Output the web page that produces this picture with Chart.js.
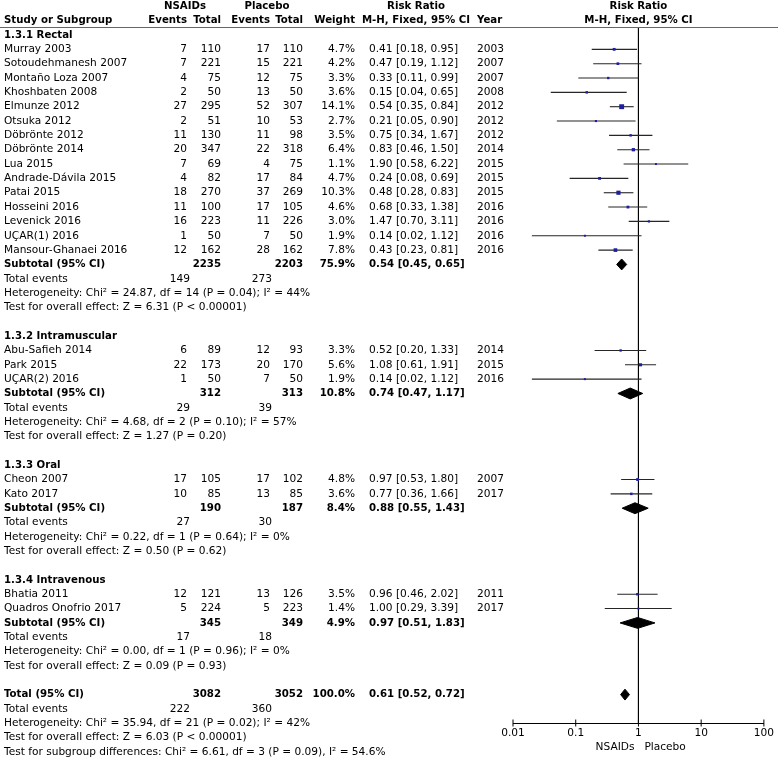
<!DOCTYPE html>
<html><head><meta charset="utf-8">
<script src="https://cdn.jsdelivr.net/npm/chart.js@4/dist/chart.umd.min.js"></script>
<style>html,body{margin:0;padding:0;background:#fff;}canvas{display:block;}</style>
</head><body>
<canvas id="c" width="778" height="762"></canvas>
<script>
// ---------- data ----------
const groupNames = ["1.3.1 Rectal", "1.3.2 Intramuscular", "1.3.3 Oral", "1.3.4 Intravenous"];
const studyNames = ["Murray 2003","Sotoudehmanesh 2007","Montaño Loza 2007","Khoshbaten 2008","Elmunze 2012","Otsuka 2012","Döbrönte 2012","Döbrönte 2014","Lua 2015","Andrade-Dávila 2015","Patai 2015","Hosseini 2016","Levenick 2016","UÇAR(1) 2016","Mansour-Ghanaei 2016",
  "Abu-Safieh 2014","Park 2015","UÇAR(2) 2016",
  "Cheon 2007","Kato 2017",
  "Bhatia 2011","Quadros Onofrio 2017"];
const studyGroup = [0,0,0,0,0,0,0,0,0,0,0,0,0,0,0, 1,1,1, 2,2, 3,3];
const nsaidEvents = [7,7,4,2,27,2,11,20,7,4,18,11,16,1,12, 6,22,1, 17,10, 12,5];
const nsaidTotal  = [110,221,75,50,295,51,130,347,69,82,270,100,223,50,162, 89,173,50, 105,85, 121,224];
const placEvents  = [17,15,12,13,52,10,11,22,4,17,37,17,11,7,28, 12,20,7, 17,13, 13,5];
const placTotal   = [110,221,75,50,307,53,98,318,75,84,269,105,226,50,162, 93,170,50, 102,85, 126,223];
const weights     = [4.7,4.2,3.3,3.6,14.1,2.7,3.5,6.4,1.1,4.7,10.3,4.6,3.0,1.9,7.8, 3.3,5.6,1.9, 4.8,3.6, 3.5,1.4];
const riskRatio   = [0.41,0.47,0.33,0.15,0.54,0.21,0.75,0.83,1.90,0.24,0.48,0.68,1.47,0.14,0.43, 0.52,1.08,0.14, 0.97,0.77, 0.96,1.00];
const ciLow       = [0.18,0.19,0.11,0.04,0.35,0.05,0.34,0.46,0.58,0.08,0.28,0.33,0.70,0.02,0.23, 0.20,0.61,0.02, 0.53,0.36, 0.46,0.29];
const ciHigh      = [0.95,1.12,0.99,0.65,0.84,0.90,1.67,1.50,6.22,0.69,0.83,1.38,3.11,1.12,0.81, 1.33,1.91,1.12, 1.80,1.66, 2.02,3.39];
const years       = [2003,2007,2007,2008,2012,2012,2012,2014,2015,2015,2015,2016,2016,2016,2016, 2014,2015,2016, 2007,2017, 2011,2017];

const subNsaidTotal = [2235,312,190,345];
const subPlacTotal  = [2203,313,187,349];
const subWeight     = [75.9,10.8,8.4,4.9];
const subRR         = [0.54,0.74,0.88,0.97];
const subLow        = [0.45,0.47,0.55,0.51];
const subHigh       = [0.65,1.17,1.43,1.83];
const subEventsN    = [149,29,27,17];
const subEventsP    = [273,39,30,18];
const subHet  = ["Heterogeneity: Chi² = 24.87, df = 14 (P = 0.04); I² = 44%",
                 "Heterogeneity: Chi² = 4.68, df = 2 (P = 0.10); I² = 57%",
                 "Heterogeneity: Chi² = 0.22, df = 1 (P = 0.64); I² = 0%",
                 "Heterogeneity: Chi² = 0.00, df = 1 (P = 0.96); I² = 0%"];
const subTest = ["Test for overall effect: Z = 6.31 (P < 0.00001)",
                 "Test for overall effect: Z = 1.27 (P = 0.20)",
                 "Test for overall effect: Z = 0.50 (P = 0.62)",
                 "Test for overall effect: Z = 0.09 (P = 0.93)"];

const totalNsaid = 3082, totalPlac = 3052, totalWeight = 100.0;
const totalRR = 0.61, totalLow = 0.52, totalHigh = 0.72;
const totalEventsN = 222, totalEventsP = 360;
const totalHet = "Heterogeneity: Chi² = 35.94, df = 21 (P = 0.02); I² = 42%";
const totalTest = "Test for overall effect: Z = 6.03 (P < 0.00001)";
const subgroupTest = "Test for subgroup differences: Chi² = 6.61, df = 3 (P = 0.09), I² = 54.6%";

const tickValues = [0.01, 0.1, 1, 10, 100];
const tickLabels = ["0.01", "0.1", "1", "10", "100"];
const favourLeft = "NSAIDs", favourRight = "Placebo";

// ---------- layout (rows) ----------
const studyRow = [], groupRow = [], subRow = [];
let row = 0;
for (let g = 0; g < groupNames.length; g++) {
  groupRow.push(row); row++;
  studyGroup.forEach((sg, i) => { if (sg === g) { studyRow[i] = row; row++; } });
  subRow.push(row); row += 5; // subtotal, events, het, test, blank
}
const totalRow = row;

// ---------- styling ----------
const FONT = '"DejaVu Sans", sans-serif';
const FS = 10.6, FSB = 10.2;
const X = { study: 4, nEv: 187, nTot: 221, pEv: 270, pTot: 303, teN: 190, teP: 272, w: 355, rr: 369, year: 477, nsaidHead: 185, placHead: 267, rrHead: 416 };
const Y_MIN = -0.558, Y_MAX = 47.98;
const DH = 0.38;
const SQ = '#1e1e9e', CI = '#262626';

const fmt = (e, l, h) => e.toFixed(2) + ' [' + l.toFixed(2) + ', ' + h.toFixed(2) + ']';
const diamond = (e, l, h, r) => [{x:l,y:r},{x:e,y:r-DH},{x:h,y:r},{x:e,y:r+DH},{x:l,y:r}];

const datasets = [];
// squares first (drawn on top)
datasets.push({
  data: riskRatio.map((v, i) => ({x: v, y: studyRow[i]})),
  pointStyle: 'rect',
  pointRadius: weights.map(w => Math.max(2, 1.3 * Math.sqrt(w)) / Math.SQRT2),
  pointBackgroundColor: SQ, pointBorderWidth: 0, showLine: false, clip: false
});
// axis tick marks crossing the axis
datasets.push({
  data: tickValues.map(v => ({x: v, y: Y_MAX})),
  pointStyle: 'line', rotation: 90, pointRadius: 3.5,
  pointBorderColor: '#000', pointBorderWidth: 1, showLine: false, clip: false
});
// diamonds
for (let g = 0; g < groupNames.length; g++) {
  datasets.push({ data: diamond(subRR[g], subLow[g], subHigh[g], subRow[g]), showLine: true, fill: 'shape',
    backgroundColor: '#000', borderColor: '#000', borderWidth: 1, pointRadius: 0, tension: 0, clip: false });
}
datasets.push({ data: diamond(totalRR, totalLow, totalHigh, totalRow), showLine: true, fill: 'shape',
  backgroundColor: '#000', borderColor: '#000', borderWidth: 1, pointRadius: 0, tension: 0, clip: false });
// CI lines
riskRatio.forEach((v, i) => {
  datasets.push({ data: [{x: ciLow[i], y: studyRow[i]}, {x: ciHigh[i], y: studyRow[i]}], showLine: true,
    borderColor: CI, borderWidth: 1.1, pointRadius: 0, fill: false, clip: false });
});
// line of no effect
datasets.push({ data: [{x: 1, y: Y_MIN}, {x: 1, y: Y_MAX}], showLine: true, borderColor: '#000', borderWidth: 1, pointRadius: 0, fill: false, clip: false });

const textPlugin = {
  id: 'forestText',
  afterDraw(chart) {
    const ctx = chart.ctx, ys = chart.scales.y, xs = chart.scales.x;
    const Yp = r => ys.getPixelForValue(r);
    const put = (txt, x, r, align, bold) => {
      ctx.font = bold ? ('bold ' + FSB + 'px ' + FONT) : (FS + 'px ' + FONT);
      ctx.textAlign = align; ctx.textBaseline = 'middle'; ctx.fillStyle = '#000';
      ctx.fillText(txt, x, Yp(r));
    };
    ctx.save();
    // header line
    ctx.strokeStyle = '#666'; ctx.lineWidth = 1;
    ctx.beginPath(); const hy = Math.round(Yp(Y_MIN)) + 0.5; ctx.moveTo(0, hy); ctx.lineTo(778, hy); ctx.stroke();
    const midX = xs.getPixelForValue(1);
    // headers
    put('NSAIDs', X.nsaidHead, -2, 'center', true);
    put('Placebo', X.placHead, -2, 'center', true);
    put('Risk Ratio', X.rrHead, -2, 'center', true);
    put('Risk Ratio', midX, -2, 'center', true);
    put('Study or Subgroup', X.study, -1, 'left', true);
    put('Events', X.nEv, -1, 'right', true);
    put('Total', X.nTot, -1, 'right', true);
    put('Events', X.pEv, -1, 'right', true);
    put('Total', X.pTot, -1, 'right', true);
    put('Weight', X.w, -1, 'right', true);
    put('M-H, Fixed, 95% CI', X.rrHead, -1, 'center', true);
    put('Year', X.year, -1, 'left', true);
    put('M-H, Fixed, 95% CI', midX, -1, 'center', true);
    // studies
    studyNames.forEach((n, i) => {
      const r = studyRow[i];
      put(n, X.study, r, 'left');
      put(String(nsaidEvents[i]), X.nEv, r, 'right');
      put(String(nsaidTotal[i]), X.nTot, r, 'right');
      put(String(placEvents[i]), X.pEv, r, 'right');
      put(String(placTotal[i]), X.pTot, r, 'right');
      put(weights[i].toFixed(1) + '%', X.w, r, 'right');
      put(fmt(riskRatio[i], ciLow[i], ciHigh[i]), X.rr, r, 'left');
      put(String(years[i]), X.year, r, 'left');
    });
    // groups
    groupNames.forEach((g, k) => {
      put(g, X.study, groupRow[k], 'left', true);
      const r = subRow[k];
      put('Subtotal (95% CI)', X.study, r, 'left', true);
      put(String(subNsaidTotal[k]), X.nTot, r, 'right', true);
      put(String(subPlacTotal[k]), X.pTot, r, 'right', true);
      put(subWeight[k].toFixed(1) + '%', X.w, r, 'right', true);
      put(fmt(subRR[k], subLow[k], subHigh[k]), X.rr, r, 'left', true);
      put('Total events', X.study, r + 1, 'left');
      put(String(subEventsN[k]), X.teN, r + 1, 'right');
      put(String(subEventsP[k]), X.teP, r + 1, 'right');
      put(subHet[k], X.study, r + 2, 'left');
      put(subTest[k], X.study, r + 3, 'left');
    });
    // total
    const t = totalRow;
    put('Total (95% CI)', X.study, t, 'left', true);
    put(String(totalNsaid), X.nTot, t, 'right', true);
    put(String(totalPlac), X.pTot, t, 'right', true);
    put(totalWeight.toFixed(1) + '%', X.w, t, 'right', true);
    put(fmt(totalRR, totalLow, totalHigh), X.rr, t, 'left', true);
    put('Total events', X.study, t + 1, 'left');
    put(String(totalEventsN), X.teN, t + 1, 'right');
    put(String(totalEventsP), X.teP, t + 1, 'right');
    put(totalHet, X.study, t + 2, 'left');
    put(totalTest, X.study, t + 3, 'left');
    put(subgroupTest, X.study, t + 4, 'left');
    // favours labels
    ctx.font = FS + 'px ' + FONT; ctx.fillStyle = '#000'; ctx.textBaseline = 'middle';
    const fy = Yp(Y_MAX) + 24;
    ctx.textAlign = 'right'; ctx.fillText(favourLeft, midX - 4, fy);
    ctx.textAlign = 'left'; ctx.fillText(favourRight, midX + 6, fy);
    ctx.restore();
  }
};

new Chart(document.getElementById('c'), {
  type: 'scatter',
  data: { datasets },
  options: {
    responsive: false, animation: false, devicePixelRatio: 1,
    layout: { padding: { left: 513, right: 11, top: 27, bottom: 39 } },
    plugins: { legend: { display: false }, tooltip: { enabled: false } },
    scales: {
      x: {
        type: 'logarithmic', min: 0.01, max: 100,
        position: { y: Y_MAX },
        afterBuildTicks: s => { s.ticks = tickValues.map(v => ({ value: v })); },
        ticks: { autoSkip: false, maxRotation: 0, padding: 4, color: '#000',
          font: { family: FONT, size: FS }, callback: (v, i) => tickLabels[i] },
        grid: { display: true, drawOnChartArea: false, drawTicks: false },
        border: { display: true, color: '#000', width: 1 }
      },
      y: { type: 'linear', display: false, reverse: true, min: Y_MIN, max: Y_MAX }
    }
  },
  plugins: [textPlugin]
});
</script>
</body></html>
